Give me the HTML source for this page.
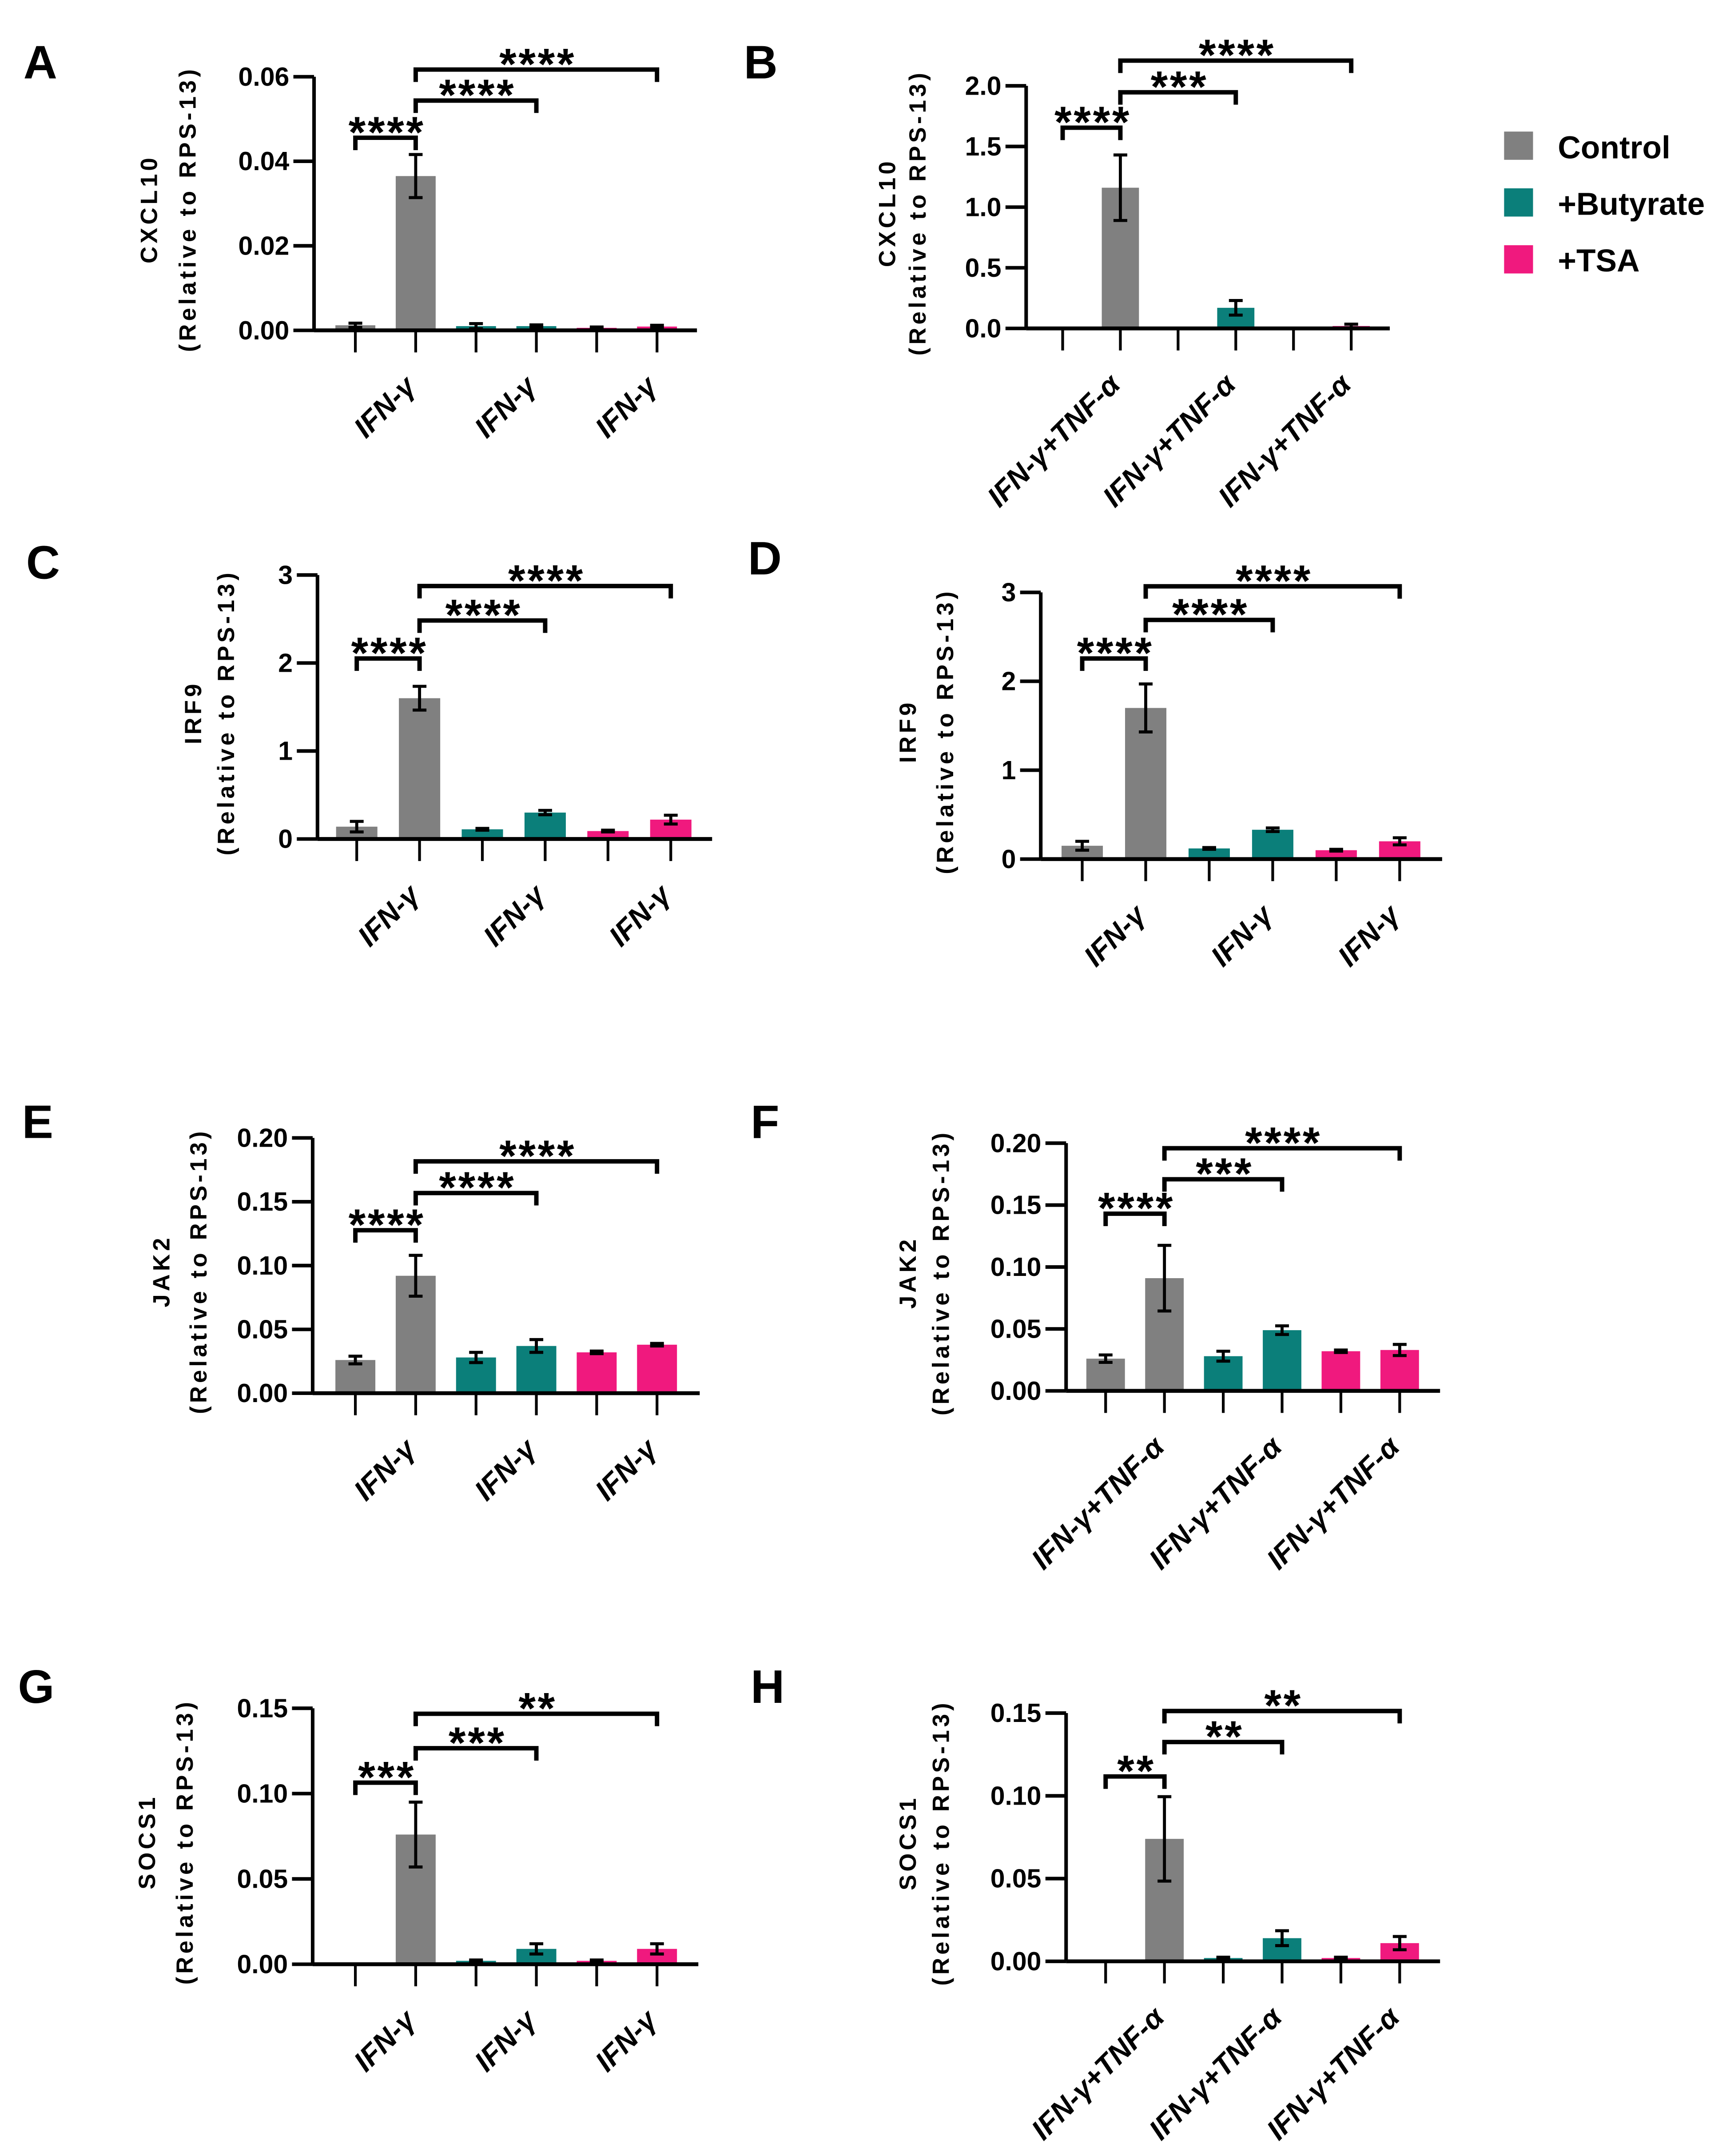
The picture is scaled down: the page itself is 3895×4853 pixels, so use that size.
<!DOCTYPE html>
<html><head><meta charset="utf-8"><style>
html,body{margin:0;padding:0;background:#fff;}
svg{display:block;}
text{font-family:"Liberation Sans",sans-serif;}
.tick{font-family:"Liberation Sans Narrow","Liberation Sans",sans-serif;font-weight:bold;font-size:19px;}
.ttl{font-weight:bold;font-size:17px;letter-spacing:2.3px;}
.xl{font-weight:bold;font-style:italic;font-size:21px;}
.star{font-weight:bold;font-size:32px;letter-spacing:1.5px;}
.letter{font-weight:bold;font-size:34px;}
.leg{font-weight:bold;font-size:23px;}
</style></head><body>
<svg id="fig" width="3895" height="4853" viewBox="0 0 1256 1565" preserveAspectRatio="none" xmlns="http://www.w3.org/2000/svg">
<g>
<rect x="1092" y="95.5" width="21" height="20.5" fill="#808080"/>
<text class="leg" x="1131" y="115">Control</text>
<rect x="1092" y="136.7" width="21" height="20.5" fill="#0b7f7a"/>
<text class="leg" x="1131" y="156">+Butyrate</text>
<rect x="1092" y="178" width="21" height="20.5" fill="#f0197e"/>
<text class="leg" x="1131" y="197">+TSA</text>
</g>
</svg>
<script>
// ---- data ----
const labelsIFN = ['IFN-γ','IFN-γ','IFN-γ'];
const labelsIFNTNF = ['IFN-γ+TNF-α','IFN-γ+TNF-α','IFN-γ+TNF-α'];
const valuesA = [0.0012, 0.0365, 0.0010, 0.0010, 0.0006, 0.0009];
const errorsA = [0.0005, 0.0051, 0.0006, 0.0003, 0.0002, 0.0003];
const ticksA = [0, 0.02, 0.04, 0.06];
const valuesB = [null, 1.16, null, 0.17, null, 0.02];
const errorsB = [0, 0.27, 0, 0.06, 0, 0.015];
const ticksB = [0, 0.5, 1.0, 1.5, 2.0];
const valuesC = [0.14, 1.60, 0.11, 0.30, 0.09, 0.22];
const errorsC = [0.06, 0.135, 0.01, 0.025, 0.01, 0.05];
const ticksC = [0, 1, 2, 3];
const valuesD = [0.15, 1.70, 0.12, 0.33, 0.10, 0.20];
const errorsD = [0.05, 0.27, 0.01, 0.02, 0.01, 0.04];
const ticksD = [0, 1, 2, 3];
const valuesE = [0.026, 0.092, 0.028, 0.037, 0.032, 0.038];
const errorsE = [0.003, 0.016, 0.004, 0.005, 0.001, 0.001];
const ticksE = [0, 0.05, 0.10, 0.15, 0.20];
const valuesF = [0.026, 0.091, 0.028, 0.049, 0.032, 0.033];
const errorsF = [0.003, 0.0265, 0.004, 0.0035, 0.001, 0.0045];
const ticksF = [0, 0.05, 0.10, 0.15, 0.20];
const valuesG = [0.0005, 0.076, 0.002, 0.009, 0.002, 0.009];
const errorsG = [0, 0.019, 0.0005, 0.003, 0.0005, 0.003];
const ticksG = [0, 0.05, 0.10, 0.15];
const valuesH = [0.0005, 0.074, 0.002, 0.014, 0.002, 0.011];
const errorsH = [0, 0.0255, 0.0005, 0.0045, 0.0005, 0.004];
const ticksH = [0, 0.05, 0.10, 0.15];
const starsA = ['****','****','****'];
const starsB = ['****','***','****'];
const starsC = ['****','****','****'];
const starsD = ['****','****','****'];
const starsE = ['****','****','****'];
const starsF = ['****','***','****'];
const starsG = ['***','***','**'];
const starsH = ['**','**','**'];
const comparisons = [[0,1],[1,3],[1,5]];

// ---- layout (pixel positions, not data) ----
const colors = ['#808080','#808080','#0b7f7a','#0b7f7a','#f0197e','#f0197e'];
const panels = [
 {id:'A',v:valuesA,e:errorsA,t:ticksA,dec:2,s:starsA,lab:labelsIFN,gene:'CXCL10',rel:'(Relative to RPS-13)',ax:228,xEnd:506,y0:239.8,yTop:55.7,c0:258,step:43.8,bw:29,brk:[100,73,50.5],t1:114,t2:142,L:[17,57]},
 {id:'B',v:valuesB,e:errorsB,t:ticksB,dec:1,s:starsB,lab:labelsIFNTNF,gene:'CXCL10',rel:'(Relative to RPS-13)',ax:745,xEnd:1009,y0:238.4,yTop:62.3,c0:771.5,step:41.9,bw:27,brk:[92.7,67,44],t1:650,t2:672,L:[540,57]},
 {id:'C',v:valuesC,e:errorsC,t:ticksC,dec:0,s:starsC,lab:labelsIFN,gene:'IRF9',rel:'(Relative to RPS-13)',ax:230.5,xEnd:517,y0:609,yTop:417.4,c0:259,step:45.6,bw:30,brk:[478,450.4,425.4],t1:146,t2:170,L:[19,420]},
 {id:'D',v:valuesD,e:errorsD,t:ticksD,dec:0,s:starsD,lab:labelsIFN,gene:'IRF9',rel:'(Relative to RPS-13)',ax:755.6,xEnd:1047,y0:623.6,yTop:430,c0:785.7,step:46.1,bw:30,brk:[478,450,425.6],t1:665,t2:692,L:[543,417]},
 {id:'E',v:valuesE,e:errorsE,t:ticksE,dec:2,s:starsE,lab:labelsIFN,gene:'JAK2',rel:'(Relative to RPS-13)',ax:227,xEnd:508,y0:1011.3,yTop:826,c0:258,step:43.8,bw:29,brk:[893,866,843],t1:123,t2:150,L:[16,826]},
 {id:'F',v:valuesF,e:errorsF,t:ticksF,dec:2,s:starsF,lab:labelsIFNTNF,gene:'JAK2',rel:'(Relative to RPS-13)',ax:774,xEnd:1045.5,y0:1009.6,yTop:829.8,c0:802.7,step:42.7,bw:28,brk:[881,856,833.5],t1:665,t2:689,L:[545,826]},
 {id:'G',v:valuesG,e:errorsG,t:ticksG,dec:2,s:starsG,lab:labelsIFN,gene:'SOCS1',rel:'(Relative to  RPS-13)',ax:227,xEnd:507,y0:1425.8,yTop:1240,c0:258,step:43.8,bw:29,brk:[1294,1269,1244],t1:112.5,t2:140,L:[13,1236]},
 {id:'H',v:valuesH,e:errorsH,t:ticksH,dec:2,s:starsH,lab:labelsIFNTNF,gene:'SOCS1',rel:'(Relative to RPS-13)',ax:774,xEnd:1045.5,y0:1423.7,yTop:1243.5,c0:802.7,step:42.7,bw:28,brk:[1289.5,1264.5,1242],t1:665,t2:689,L:[545,1236]}
];
const NS='http://www.w3.org/2000/svg';
const svg=document.getElementById('fig');
function mk(tag,parent,attrs){const el=document.createElementNS(NS,tag);for(const k in attrs)el.setAttribute(k,attrs[k]);parent.appendChild(el);return el;}
panels.forEach(p=>{
  const g=mk('g',svg,{});
  
  
  const tmax=p.t[p.t.length-1];
  const yScale=v=>p.y0-(v/tmax)*(p.y0-p.yTop);
  const xPos=i=>p.c0+i*p.step;
  const letter=mk('text',g,{x:p.L[0],y:p.L[1],class:'letter'});letter.textContent=p.id;
  
  
  p.v.forEach((v,i)=>{
    if(v===null)return;
    const top=yScale(v);
    const r=mk('rect',g,{x:xPos(i)-p.bw/2,y:top,width:p.bw,height:Math.max(p.y0-top,0.6),fill:colors[i]});
    
    
    const e=p.e[i];
    if(e>0){
      const eg=mk('g',g,{stroke:'#000','stroke-width':2.2});
      
      
      const hi=yScale(v+e),lo=yScale(Math.max(v-e,0));
      mk('line',eg,{x1:xPos(i),x2:xPos(i),y1:hi,y2:lo});
      mk('line',eg,{x1:xPos(i)-5,x2:xPos(i)+5,y1:hi,y2:hi});
      mk('line',eg,{x1:xPos(i)-5,x2:xPos(i)+5,y1:lo,y2:lo});
    }
  });
  const ya=mk('line',g,{x1:p.ax,x2:p.ax,y1:p.yTop,y2:p.y0,stroke:'#000','stroke-width':2.6});
  
  
  const xa=mk('line',g,{x1:p.ax,x2:p.xEnd,y1:p.y0,y2:p.y0,stroke:'#000','stroke-width':2.8});
  
  
  p.t.forEach(tv=>{
    const y=yScale(tv);
    mk('line',g,{x1:p.ax-15,x2:p.ax,y1:y,y2:y,stroke:'#000','stroke-width':2.6});
    const tl=mk('text',g,{x:p.ax-18,y:y+6.5,'text-anchor':'end',class:'tick'});
    tl.textContent=tv.toFixed(p.dec);
    
    
  });
  for(let i=0;i<6;i++){
    mk('line',g,{x1:xPos(i),x2:xPos(i),y1:p.y0,y2:p.y0+16,stroke:'#000','stroke-width':2});
  }
  p.lab.forEach((l,k)=>{
    const cx=xPos(2*k+1)+1, cy=p.y0+42;
    const t=mk('text',g,{x:cx,y:cy,'text-anchor':'end',class:'xl',transform:'rotate(-45 '+cx+' '+cy+')'});
    t.textContent=l;
    
    
  });
  const my=(p.y0+p.yTop)/2+4;
  const t1=mk('text',g,{x:p.t1,y:my,'text-anchor':'middle',class:'ttl',transform:'rotate(-90 '+p.t1+' '+my+')'});
  t1.textContent=p.gene;
  
  
  const t2=mk('text',g,{x:p.t2,y:my,'text-anchor':'middle',class:'ttl',transform:'rotate(-90 '+p.t2+' '+my+')'});
  t2.textContent=p.rel;
  
  
  comparisons.forEach((c,k)=>{
    const x1=xPos(c[0]),x2=xPos(c[1]),y=p.brk[k];
    const bg=mk('g',g,{});
    
    
    mk('path',bg,{d:'M'+x1+' '+(y+9)+' V'+y+' H'+x2+' V'+(y+9),fill:'none',stroke:'#000','stroke-width':3.2});
    const st=mk('text',bg,{x:(x1+x2)/2+1,y:y+7,'text-anchor':'middle',class:'star'});
    st.textContent=p.s[k];
  });
});
</script>
</body></html>
